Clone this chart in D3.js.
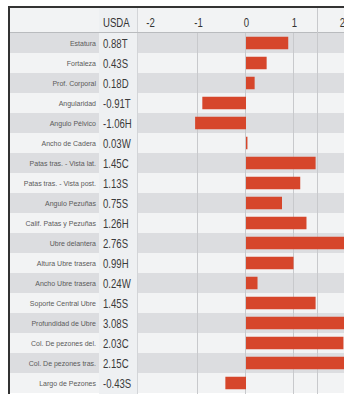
<!DOCTYPE html>
<html>
<head>
<meta charset="utf-8">
<script src="https://cdn.jsdelivr.net/npm/d3@7/dist/d3.min.js"></script>
<style>
  html, body { margin: 0; padding: 0; background: #fff; }
  svg { display: block; }
</style>
</head>
<body>
<script>
// Linear type traits and their USDA-scale scores
const traits = [
  "Estatura", "Fortaleza", "Prof. Corporal", "Angularidad", "Angulo Pélvico",
  "Ancho de Cadera", "Patas tras. - Vista lat.", "Patas tras. - Vista post.",
  "Angulo Pezuñas", "Calif. Patas y Pezuñas", "Ubre delantera",
  "Altura Ubre trasera", "Ancho Ubre trasera", "Soporte Central Ubre",
  "Profundidad de Ubre", "Col. De pezones del.", "Col. De pezones tras.",
  "Largo de Pezones"
];
const scores = [0.88, 0.43, 0.18, -0.91, -1.06, 0.03, 1.45, 1.13, 0.75, 1.26,
                2.76, 0.99, 0.24, 1.45, 3.08, 2.03, 2.15, -0.43];
const codes = ["T", "S", "D", "T", "H", "W", "C", "S", "S", "H",
               "S", "H", "W", "S", "S", "C", "C", "S"];
const tickValues = [-2, -1, 0, 1, 2];
const gridValues = [-1, 0, 1];
const dividerValue = 1.5;
const columnTitle = "USDA";

const W = 344, H = 394;
const frameLeft = 10, frameTop = 8, headerBottom = 33;
const colX0 = 99, colX1 = 137;
const sans = "'Liberation Sans', Arial, sans-serif";
const squeeze = 0.8; // horizontal condensing for the narrow header/score type

// plain hyphen for negative numbers
const locale = d3.formatLocale({ decimal: ".", thousands: ",", grouping: [3], currency: ["", ""], minus: "-" });
const fmtScore = locale.format(".2f");
const fmtTick = locale.format("d");

const svg = d3.select("body").append("svg").attr("width", W).attr("height", H);

const x = d3.scaleLinear().domain([-2, 2]).range([150, 342]);
const rows = d3.scaleBand().domain(traits).range([headerBottom, headerBottom + 20 * traits.length]);
const bars = d3.scaleBand().domain(traits).range(rows.range()).paddingInner(0.375).paddingOuter(0.1875);

const data = traits.map((t, i) => ({ trait: t, score: scores[i], code: codes[i], i }));

// header band
svg.append("rect").attr("x", frameLeft).attr("y", frameTop)
  .attr("width", W - frameLeft).attr("height", headerBottom - frameTop)
  .attr("fill", "#f2f3f4");

// row stripes
svg.append("g").selectAll("rect").data(data).join("rect")
  .attr("x", frameLeft).attr("y", d => rows(d.trait))
  .attr("width", W - frameLeft).attr("height", rows.step())
  .attr("fill", d => d.i % 2 === 0 ? "#dcdde0" : "#f2f3f4");

// score column background
svg.append("rect").attr("x", colX0).attr("y", frameTop).attr("width", colX1 - colX0).attr("height", H - frameTop)
  .attr("fill", "#eef0f2");
svg.append("line").attr("x1", colX1 + 0.5).attr("x2", colX1 + 0.5).attr("y1", frameTop).attr("y2", H)
  .attr("stroke", "#d3d5d8").attr("stroke-width", 1);

// header bottom rule
svg.append("line").attr("x1", frameLeft).attr("x2", W).attr("y1", headerBottom - 0.5).attr("y2", headerBottom - 0.5)
  .attr("stroke", "#b9bbbe").attr("stroke-width", 1);

// vertical grid
svg.append("g").selectAll("line").data(gridValues).join("line")
  .attr("x1", d => Math.round(x(d)) - 0.5).attr("x2", d => Math.round(x(d)) - 0.5)
  .attr("y1", headerBottom).attr("y2", H)
  .attr("stroke", "#c8c9cc").attr("stroke-width", 1);
svg.append("line")
  .attr("x1", Math.round(x(dividerValue)) - 0.5).attr("x2", Math.round(x(dividerValue)) - 0.5)
  .attr("y1", frameTop).attr("y2", H)
  .attr("stroke", "#c8c9cc").attr("stroke-width", 1);

// bars
svg.append("g").selectAll("rect").data(data).join("rect")
  .attr("x", d => x(Math.min(0, d.score)))
  .attr("y", d => bars(d.trait))
  .attr("width", d => Math.abs(x(d.score) - x(0)))
  .attr("height", bars.bandwidth())
  .attr("fill", "#d6462b");

// axis along the header
const axis = d3.axisTop(x).tickValues(tickValues).tickSize(0).tickPadding(0).tickFormat(fmtTick);
const ag = svg.append("g").attr("transform", `translate(0,${frameTop + 19})`).call(axis);
ag.select(".domain").remove();
ag.selectAll("text")
  .attr("font-family", sans)
  .attr("font-size", 12).attr("fill", "#333")
  .attr("transform", `scale(${squeeze},1)`);

// column title
svg.append("text")
  .attr("transform", `translate(103,${frameTop + 19}) scale(${squeeze},1)`)
  .attr("font-family", sans)
  .attr("font-size", 12).attr("fill", "#333").text(columnTitle);

// trait labels
svg.append("g").selectAll("text").data(data).join("text")
  .attr("x", 96).attr("y", d => rows(d.trait) + rows.step() / 2 + 2.5)
  .attr("text-anchor", "end")
  .attr("font-family", sans)
  .attr("font-size", 7).attr("fill", "#5a5a5a")
  .text(d => d.trait);

// score + code labels
svg.append("g").selectAll("text").data(data).join("text")
  .attr("transform", d => `translate(103,${rows(d.trait) + rows.step() / 2 + 4.5}) scale(${squeeze},1)`)
  .attr("font-family", sans)
  .attr("font-size", 12).attr("fill", "#3a3a3a")
  .text(d => fmtScore(d.score) + d.code);

// frame
svg.append("line").attr("x1", frameLeft - 1).attr("x2", W).attr("y1", frameTop - 1).attr("y2", frameTop - 1)
  .attr("stroke", "#333").attr("stroke-width", 2);
svg.append("line").attr("x1", frameLeft - 1).attr("x2", frameLeft - 1).attr("y1", frameTop - 2).attr("y2", H)
  .attr("stroke", "#333").attr("stroke-width", 2);
</script>
</body>
</html>
